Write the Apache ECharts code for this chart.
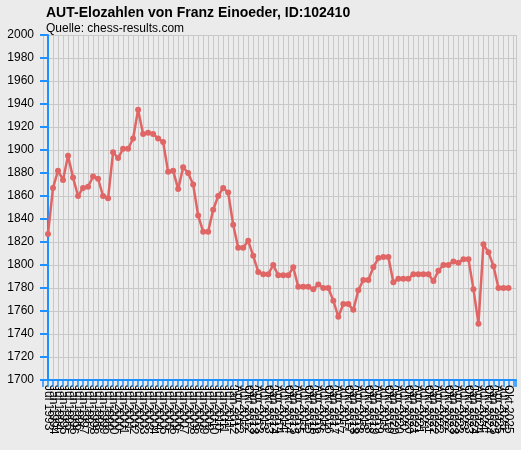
<!DOCTYPE html>
<html>
<head>
<meta charset="utf-8">
<script src="https://cdn.jsdelivr.net/npm/echarts@6/dist/echarts.min.js"></script>
<style>
html,body{margin:0;padding:0;background:#ebebeb;}
#chart{width:521px;height:450px;}
</style>
</head>
<body>
<div id="chart"></div>
<script>
// Rating list periods: half-yearly Jul 1993 .. Jan 2012, then quarterly Apr 2012 .. Okt 2025
const halfYearLabels = [
  "Jul 1993","Jan 1994","Jul 1994","Jan 1995","Jul 1995","Jan 1996","Jul 1996","Jan 1997","Jul 1997","Jan 1998",
  "Jul 1998","Jan 1999","Jul 1999","Jan 2000","Jul 2000","Jan 2001","Jul 2001","Jan 2002","Jul 2002","Jan 2003",
  "Jul 2003","Jan 2004","Jul 2004","Jan 2005","Jul 2005","Jan 2006","Jul 2006","Jan 2007","Jul 2007","Jan 2008",
  "Jul 2008","Jan 2009","Jul 2009","Jan 2010","Jul 2010","Jan 2011","Jul 2011","Jan 2012"
];
const quarterLabels = [
  "Apr 2012","Jul 2012","Okt 2012",
  "Jan 2013","Apr 2013","Jul 2013","Okt 2013",
  "Jan 2014","Apr 2014","Jul 2014","Okt 2014",
  "Jan 2015","Apr 2015","Jul 2015","Okt 2015",
  "Jan 2016","Apr 2016","Jul 2016","Okt 2016",
  "Jan 2017","Apr 2017","Jul 2017","Okt 2017",
  "Jan 2018","Apr 2018","Jul 2018","Okt 2018",
  "Jan 2019","Apr 2019","Jul 2019","Okt 2019",
  "Jan 2020","Apr 2020","Jul 2020","Okt 2020",
  "Jan 2021","Apr 2021","Jul 2021","Okt 2021",
  "Jan 2022","Apr 2022","Jul 2022","Okt 2022",
  "Jan 2023","Apr 2023","Jul 2023","Okt 2023",
  "Jan 2024","Apr 2024","Jul 2024","Okt 2024",
  "Jan 2025","Apr 2025","Jul 2025","Okt 2025"
];
const categories = halfYearLabels.concat(quarterLabels);

const elo = [
  1827,1867,1882,1874,1895,1876,1860,1867,1868,1877,
  1875,1860,1858,1898,1893,1901,1901,1910,1935,1914,
  1915,1914,1910,1907,1881,1882,1866,1885,1880,1870,
  1843,1829,1829,1848,1860,1867,1863,1835,1815,1815,
  1821,1808,1794,1792,1792,1800,1791,1791,1791,1798,
  1781,1781,1781,1779,1783,1780,1780,1769,1755,1766,
  1766,1761,1778,1787,1787,1798,1806,1807,1807,1785,
  1788,1788,1788,1792,1792,1792,1792,1786,1795,1800,
  1800,1803,1802,1805,1805,1779,1749,1818,1811,1799,
  1780,1780,1780
];

const yTicks = {min: 1700, max: 2000, step: 20};

const seriesData = elo.map((v, i) => [i, v]);
const blue = '#1e90ff';

const chart = echarts.init(document.getElementById('chart'), null, {renderer: 'canvas'});
chart.setOption({
  backgroundColor: '#ebebeb',
  animation: false,
  title: {
    text: 'AUT-Elozahlen von Franz Einoeder, ID:102410',
    subtext: 'Quelle: chess-results.com',
    left: 41, top: 1,
    itemGap: 3,
    textStyle: {fontFamily: 'Liberation Sans, Arial', fontSize: 14, fontWeight: 'bold', color: '#000'},
    subtextStyle: {fontFamily: 'Liberation Sans, Arial', fontSize: 12, color: '#000'}
  },
  grid: {left: 43, right: 5, top: 35, bottom: 70, containLabel: false,
         show: true, backgroundColor: '#ececec', borderWidth: 0},
  xAxis: {
    type: 'value',
    min: -1, max: 93.5, interval: 1,
    axisLine: {show: true, onZero: false, lineStyle: {color: blue, width: 2}},
    axisTick: {show: true, length: 7, lineStyle: {color: blue, width: 1.5}},
    splitLine: {show: true, lineStyle: {color: '#c8c8c8', width: 1}},
    axisLabel: {
      rotate: -90, fontSize: 12, color: '#000', margin: 5,
      fontFamily: 'Liberation Sans, Arial',
      showMinLabel: true, showMaxLabel: true,
      formatter: v => (Number.isInteger(v) && v >= 0 && v < categories.length) ? categories[v] : ''
    }
  },
  yAxis: {
    type: 'value',
    min: yTicks.min, max: yTicks.max, interval: yTicks.step,
    axisLine: {show: true, lineStyle: {color: blue, width: 2}},
    axisTick: {show: true, length: 8, lineStyle: {color: blue, width: 2}},
    splitLine: {show: true, lineStyle: {color: '#c8c8c8', width: 1}},
    axisLabel: {fontSize: 12, color: '#000', margin: 9, fontFamily: 'Liberation Sans, Arial',
                formatter: v => String(v)}
  },
  series: [{
    type: 'line',
    data: seriesData,
    symbol: 'circle',
    symbolSize: 6,
    lineStyle: {color: '#e06666', width: 2.5},
    itemStyle: {color: '#e06666'}
  }]
});
</script>
</body>
</html>
